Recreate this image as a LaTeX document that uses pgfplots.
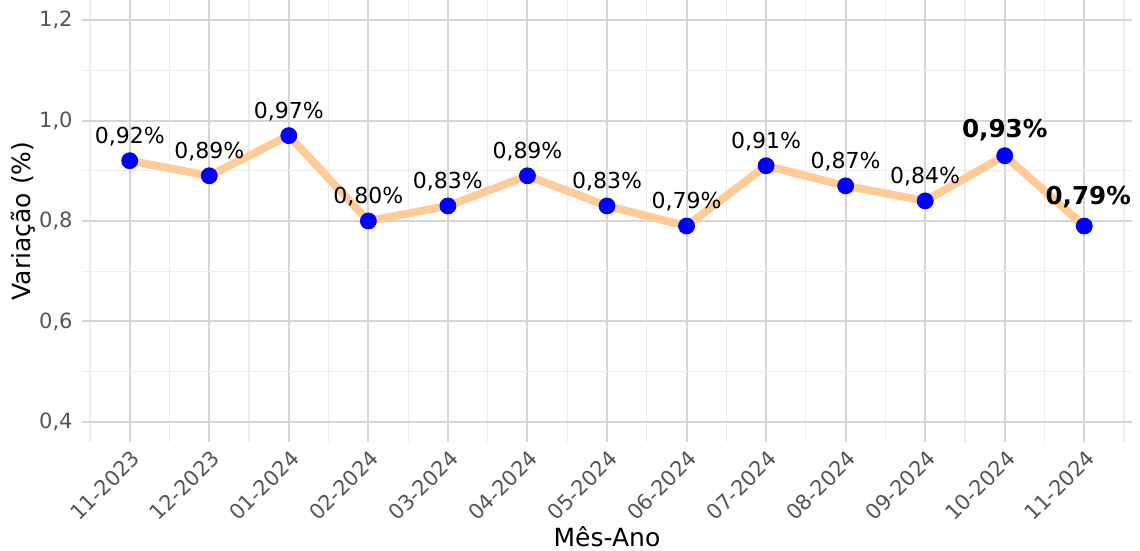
\documentclass[border=0pt]{standalone}
\usepackage{pgfplots}
\pgfplotsset{compat=1.18}
\usepackage{fontspec}
\setmainfont{DejaVu Sans}
\definecolor{peach}{RGB}{255,204,153}
\definecolor{ticktext}{RGB}{85,85,85}
\definecolor{majgrid}{RGB}{214,214,214}
\definecolor{mingrid}{RGB}{236,236,236}
\begin{document}
\begin{tikzpicture}
\useasboundingbox (-41pt,-54.5pt) rectangle (529pt,221pt);
\begin{axis}[
  at={(0,0)}, anchor=south west,
  scale only axis, width=525pt, height=221pt,
  xmin=-0.6, xmax=12.6, ymin=0.36, ymax=1.24,
  xtick={0,...,12},
  xticklabels={11-2023,12-2023,01-2024,02-2024,03-2024,04-2024,05-2024,06-2024,07-2024,08-2024,09-2024,10-2024,11-2024},
  minor xtick={-0.5,0.5,1.5,2.5,3.5,4.5,5.5,6.5,7.5,8.5,9.5,10.5,11.5,12.5},
  ytick={0.4,0.6,0.8,1.0,1.2},
  minor ytick={0.5,0.7,0.9,1.1},
  grid=both,
  major grid style={majgrid, line width=1pt},
  minor grid style={mingrid, line width=0.6pt},
  axis line style={draw=none},
  major tick length=0pt, minor tick length=0pt,
  /pgf/number format/assume math mode=true,
  yticklabel style={font=\fontsize{10.5}{12}\selectfont, text=ticktext, inner sep=0pt, xshift=-4.5pt,
    /pgf/number format/.cd, use comma, fixed, fixed zerofill, precision=1},
  yticklabel={\pgfmathprintnumber{\tick}},
  xticklabel style={font=\fontsize{10.5}{12}\selectfont, text=ticktext,
    rotate=45, anchor=north east, inner sep=0pt, yshift=-2.5pt, xshift=-2pt},
  xlabel={Mês-Ano}, ylabel={Variação (\%)},
  label style={font=\fontsize{12.5}{14}\selectfont},
  xlabel style={at={(axis description cs:0.5,0)}, anchor=center, yshift=-47.5pt},
  ylabel style={at={(axis description cs:0,0.5)}, anchor=center, yshift=29.5pt},
  clip=false,
]
\addplot[peach, line width=4pt, line join=round] coordinates {
  (0,0.92)(1,0.89)(2,0.97)(3,0.80)(4,0.83)(5,0.89)(6,0.83)
  (7,0.79)(8,0.91)(9,0.87)(10,0.84)(11,0.93)(12,0.79)};
\addplot[only marks, mark=*, mark size=4pt, mark options={fill=blue, draw=blue},
  point meta=y,
  nodes near coords={\pgfmathprintnumber[use comma,fixed,fixed zerofill,precision=2]{\pgfplotspointmeta}\%},
  nodes near coords style={font=\fontsize{11}{13}\selectfont, text=black, anchor=center, inner sep=0pt, yshift=12pt}]
  coordinates {
  (0,0.92)(1,0.89)(2,0.97)(3,0.80)(4,0.83)(5,0.89)(6,0.83)
  (7,0.79)(8,0.91)(9,0.87)(10,0.84)};
\addplot[only marks, mark=*, mark size=4pt, mark options={fill=blue, draw=blue},
  point meta=y,
  nodes near coords={\pgfmathprintnumber[use comma,fixed,fixed zerofill,precision=2]{\pgfplotspointmeta}\%},
  nodes near coords style={font=\fontsize{12.3}{14}\selectfont\bfseries, text=black, anchor=center, inner sep=0pt, yshift=13pt}]
  coordinates {(11,0.93)};
\addplot[only marks, mark=*, mark size=4pt, mark options={fill=blue, draw=blue},
  point meta=y,
  nodes near coords={\pgfmathprintnumber[use comma,fixed,fixed zerofill,precision=2]{\pgfplotspointmeta}\%},
  nodes near coords style={font=\fontsize{12.3}{14}\selectfont\bfseries, text=black, anchor=center, inner sep=0pt, yshift=14.5pt, xshift=2pt}]
  coordinates {(12,0.79)};
\end{axis}
\end{tikzpicture}
\end{document}
